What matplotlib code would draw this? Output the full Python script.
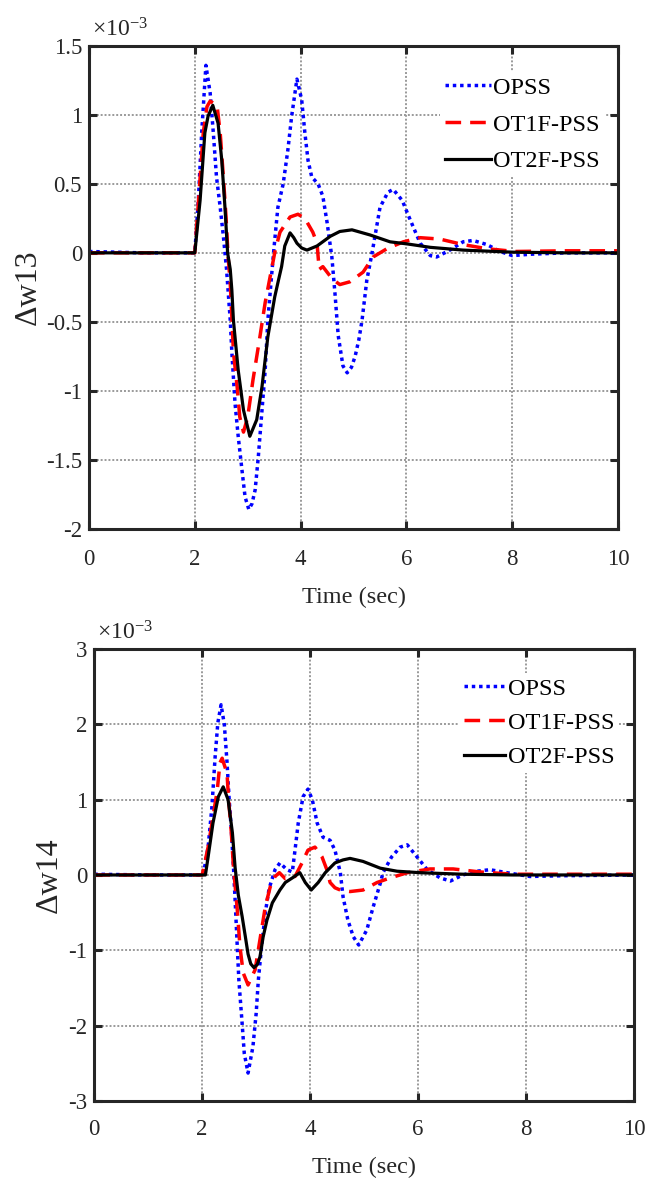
import matplotlib
matplotlib.use("Agg")
import matplotlib.pyplot as plt
from matplotlib.ticker import FuncFormatter

plt.rcParams['font.family'] = ['Liberation Serif', 'DejaVu Serif']
plt.rcParams['mathtext.fontset'] = 'custom'
plt.rcParams['mathtext.rm'] = 'Liberation Serif'
plt.rcParams['mathtext.it'] = 'Liberation Serif:italic'
plt.rcParams['axes.unicode_minus'] = False

# ---------------- data (values in units of 1e-3) ----------------
labels = ["OPSS", "OT1F-PSS", "OT2F-PSS"]
x_ticks = [0, 2, 4, 6, 8, 10]
y_ticks_w13 = [-2, -1.5, -1, -0.5, 0, 0.5, 1, 1.5]
y_ticks_w14 = [-3, -2, -1, 0, 1, 2, 3]

# Delta w13
t13_opss = [0, 1.0, 2.0, 2.07, 2.13, 2.21, 2.29, 2.35, 2.41, 2.48,
            2.54, 2.6, 2.67, 2.7, 2.76, 2.82, 2.89, 2.95, 3.02, 3.08,
            3.14, 3.2, 3.27, 3.33, 3.38, 3.45, 3.5, 3.57, 3.67, 3.76,
            3.83, 3.93, 4.02, 4.08, 4.14, 4.21, 4.33, 4.42, 4.5, 4.59,
            4.65, 4.71, 4.8, 4.88, 4.96, 5.03, 5.1, 5.16, 5.25, 5.35,
            5.5, 5.65, 5.75, 5.92, 6.07, 6.26, 6.45, 6.57, 6.82, 7.07,
            7.26, 7.52, 7.77, 8.0, 8.34, 9.0, 10.0]
w13_opss = [0.01, 0.0, 0.0, 0.4, 0.87, 1.36, 1.16, 0.87, 0.55, 0.33,
            0.12, -0.12, -0.49, -0.72, -1.09, -1.33, -1.57, -1.77, -1.86, -1.82,
            -1.72, -1.48, -1.14, -0.85, -0.49, -0.17, 0.05, 0.33, 0.5, 0.75,
            0.99, 1.26, 1.11, 0.87, 0.67, 0.55, 0.5, 0.41, 0.22, -0.03,
            -0.3, -0.6, -0.82, -0.87, -0.83, -0.75, -0.63, -0.49, -0.2, 0.0,
            0.33, 0.44, 0.46, 0.38, 0.24, 0.07, -0.02, -0.03, 0.02, 0.08,
            0.09, 0.06, 0.01, -0.02, -0.01, 0.0, 0.0]

t13_ot1f = [0, 2.0, 2.07, 2.16, 2.23, 2.29, 2.42, 2.48, 2.54, 2.59,
            2.63, 2.67, 2.73, 2.8, 2.85, 2.92, 3.0, 3.1, 3.23, 3.33,
            3.42, 3.52, 3.61, 3.8, 3.95, 4.08, 4.23, 4.31, 4.35, 4.42,
            4.5, 4.6, 4.74, 4.93, 5.18, 5.37, 5.63, 5.94, 6.26, 6.63,
            7.07, 7.52, 8.05, 9.0, 10.0]
w13_ot1f = [0, 0, 0.38, 0.87, 1.06, 1.1, 1.07, 0.87, 0.55, 0.26,
            -0.03, -0.22, -0.72, -0.97, -1.19, -1.3, -1.19, -0.92, -0.61, -0.36,
            -0.18, 0.02, 0.15, 0.26, 0.28, 0.25, 0.15, 0.07, -0.12, -0.1,
            -0.14, -0.19, -0.23, -0.21, -0.14, -0.03, 0.03, 0.08, 0.11, 0.1,
            0.06, 0.03, 0.01, 0.015, 0.015]

t13_ot2f = [0, 2.0, 2.1, 2.19, 2.25, 2.34, 2.44, 2.51, 2.57, 2.62,
            2.67, 2.7, 2.73, 2.82, 2.92, 3.04, 3.17, 3.27, 3.38, 3.51,
            3.58, 3.64, 3.7, 3.8, 3.87, 3.93, 4.02, 4.12, 4.31, 4.56,
            4.74, 4.97, 5.31, 5.69, 6.01, 6.45, 7.07, 8.0, 9.0, 10.0]
w13_ot2f = [0, 0, 0.38, 0.87, 0.99, 1.07, 0.94, 0.67, 0.33, 0.0,
            -0.12, -0.27, -0.49, -0.85, -1.14, -1.33, -1.21, -0.97, -0.61, -0.32,
            -0.2, -0.1, 0.05, 0.145, 0.11, 0.07, 0.035, 0.02, 0.05, 0.12,
            0.155, 0.167, 0.13, 0.08, 0.065, 0.04, 0.02, 0.005, 0.0, 0.0]

# Delta w14
t14_opss = [0, 1.0, 2.02, 2.11, 2.18, 2.24, 2.29, 2.35, 2.41, 2.46,
            2.5, 2.54, 2.58, 2.61, 2.65, 2.68, 2.74, 2.78, 2.85, 2.94,
            3.0, 3.04, 3.1, 3.17, 3.24, 3.35, 3.44, 3.57, 3.67, 3.72,
            3.78, 3.87, 3.96, 4.04, 4.13, 4.24, 4.37, 4.46, 4.56, 4.61,
            4.7, 4.8, 4.9, 5.05, 5.17, 5.3, 5.35, 5.51, 5.67, 5.8,
            5.98, 6.17, 6.41, 6.6, 6.83, 7.09, 7.33, 7.65, 8.07, 8.69,
            10.0]
w14_opss = [0.01, 0.0, 0.0, 0.37, 0.9, 1.57, 2.02, 2.26, 2.0, 1.5,
            1.0, 0.6, 0.1, -0.33, -0.95, -1.4, -1.97, -2.37, -2.63, -2.28,
            -1.84, -1.4, -0.95, -0.5, -0.18, 0.07, 0.16, 0.07, 0.04, 0.33,
            0.69, 1.04, 1.14, 1.0, 0.69, 0.5, 0.46, 0.33, 0.03, -0.29,
            -0.6, -0.82, -0.93, -0.73, -0.42, -0.11, 0.03, 0.24, 0.37, 0.4,
            0.24, 0.07, -0.04, -0.08, 0.0, 0.05, 0.07, 0.03, -0.02, -0.01,
            0.0]

t14_ot1f = [0, 2.0, 2.11, 2.2, 2.28, 2.33, 2.37, 2.46, 2.49, 2.54,
            2.58, 2.65, 2.7, 2.76, 2.85, 2.98, 3.07, 3.17, 3.26, 3.35,
            3.43, 3.54, 3.72, 3.85, 3.96, 4.09, 4.22, 4.31, 4.37, 4.46,
            4.56, 4.74, 4.98, 5.24, 5.48, 5.8, 6.22, 6.65, 7.15, 7.76,
            8.7, 10.0]
w14_ot1f = [0, 0, 0.37, 0.77, 1.13, 1.49, 1.55, 1.35, 1.0, 0.56,
            0.1, -0.46, -0.95, -1.3, -1.46, -1.26, -0.86, -0.42, -0.16, -0.02,
            0.03, -0.05, -0.02, 0.16, 0.33, 0.37, 0.24, 0.07, -0.1, -0.17,
            -0.2, -0.22, -0.2, -0.1, -0.04, 0.03, 0.08, 0.08, 0.04, 0.01,
            0.01, 0.01]

t14_ot2f = [0, 2.06, 2.11, 2.2, 2.3, 2.39, 2.48, 2.56, 2.61, 2.67,
            2.74, 2.8, 2.85, 2.9, 2.96, 3.02, 3.07, 3.13, 3.2, 3.3,
            3.44, 3.54, 3.69, 3.81, 3.91, 4.02, 4.15, 4.28, 4.46, 4.61,
            4.74, 4.98, 5.3, 5.61, 6.04, 6.83, 7.76, 10.0]
w14_ot2f = [0, 0, 0.24, 0.69, 1.04, 1.17, 1.0, 0.56, 0.1, -0.27,
            -0.55, -0.82, -1.05, -1.18, -1.23, -1.19, -1.09, -0.82, -0.6, -0.37,
            -0.2, -0.1, -0.03, 0.03, -0.1, -0.2, -0.1, 0.03, 0.16, 0.2,
            0.22, 0.18, 0.09, 0.05, 0.03, 0.01, 0.0, 0.0]

# ---------------- figure ----------------
fig = plt.figure(figsize=(6.59, 11.8), dpi=100)
ax1 = fig.add_axes([0.135, 0.552, 0.803, 0.409])
ax2 = fig.add_axes([0.143, 0.067, 0.819, 0.383])

dark = '#262626'


def draw(ax, series, ylim, yticks, ylabel, ylabel_x, xpad,
         leg_anchor, leg_space, handle_len):
    styles = [dict(color='#0000ff', lw=2.5, dashes=(1.0, 1.1)),
              dict(color='#ff0000', lw=2.5, dashes=(4.5, 2.6)),
              dict(color='black', lw=2.3, linestyle='-')]
    for (t, v), lab, st in zip(series, labels, styles):
        ax.plot(t, v, label=lab, **st)
    ax.set_xlim(0, 10)
    ax.set_ylim(*ylim)
    ax.set_xticks(x_ticks)
    ax.set_yticks(yticks)
    fmt = FuncFormatter(lambda val, pos: f'{val:g}')
    ax.yaxis.set_major_formatter(fmt)
    ax.xaxis.set_major_formatter(fmt)
    ax.grid(True, color='#9a9a9a', linestyle=(0, (1, 1)), linewidth=1.4)
    ax.set_axisbelow(True)
    ax.tick_params(direction='in', top=True, right=True, length=6, width=2.2,
                   labelsize=16.5, colors=dark, labelcolor=dark)
    ax.tick_params(axis='x', pad=xpad)
    ax.tick_params(axis='y', pad=5)
    for sp in ax.spines.values():
        sp.set_linewidth(2.2)
        sp.set_color(dark)
    ax.set_xlabel('Time (sec)', fontsize=17.5, color=dark, labelpad=12)
    ax.set_ylabel(ylabel, fontsize=23, color=dark)
    ax.yaxis.set_label_coords(ylabel_x, 0.5)
    ax.text(0.005, 1.01, '×10$^{-3}$', transform=ax.transAxes,
            fontsize=17, color=dark, ha='left', va='bottom')
    leg = ax.legend(loc='upper right', bbox_to_anchor=leg_anchor,
                    frameon=True, fancybox=False, framealpha=1,
                    facecolor='white', edgecolor='none', fontsize=17.5,
                    handlelength=handle_len, handletextpad=0.1,
                    labelspacing=leg_space, borderpad=0.2, borderaxespad=0.0)
    for txt in leg.get_texts():
        txt.set_color('black')


draw(ax1, [(t13_opss, w13_opss), (t13_ot1f, w13_ot1f), (t13_ot2f, w13_ot2f)],
     (-2, 1.5), y_ticks_w13, 'Δw13', -0.088, 15,
     (0.975, 0.946), 0.6, 1.9)
draw(ax2, [(t14_opss, w14_opss), (t14_ot1f, w14_ot1f), (t14_ot2f, w14_ot2f)],
     (-3, 3), y_ticks_w14, 'Δw14', -0.056, 13,
     (0.973, 0.947), 0.5, 1.7)

fig.savefig('out.png', dpi=100)
